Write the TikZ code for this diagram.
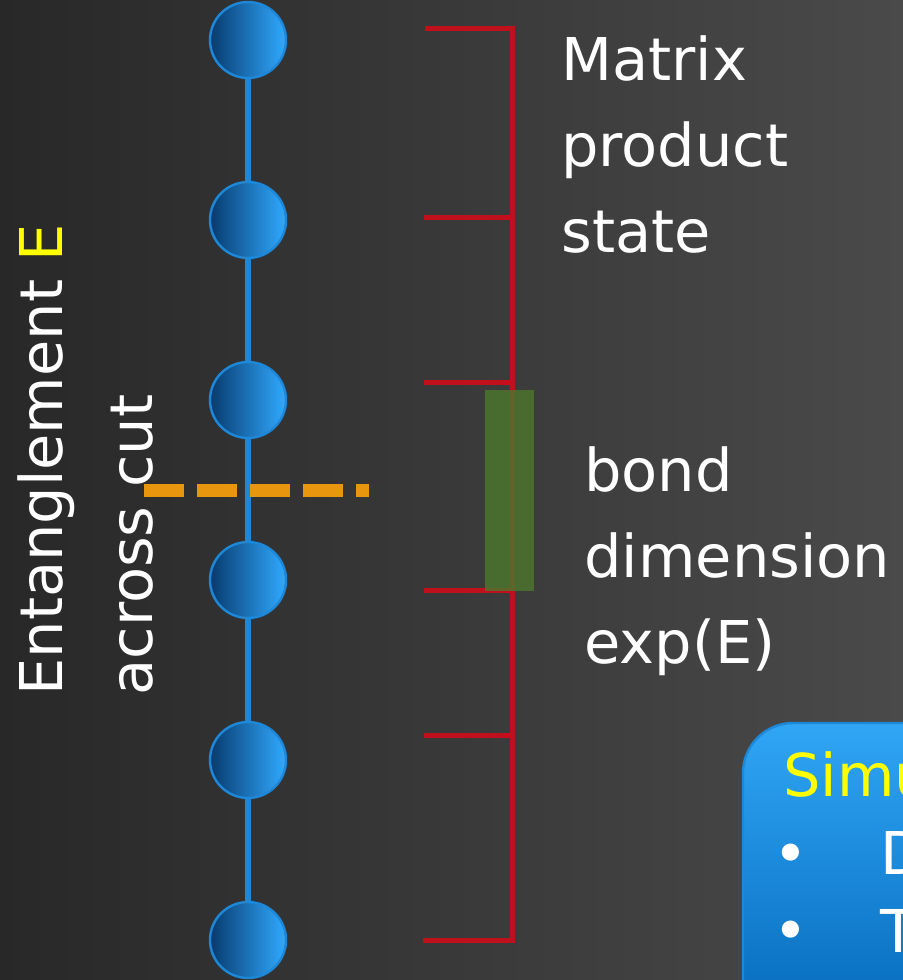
\documentclass[tikz,border=0pt]{standalone}
\usepackage{fontspec}
\setmainfont{DejaVu Sans}
\usetikzlibrary{positioning}
\pgfdeclarelayer{bg}
\pgfdeclarelayer{chain}
\pgfsetlayers{bg,chain,main}
\definecolor{bgdark}{RGB}{40,40,40}
\definecolor{bglight}{RGB}{74,74,74}
\definecolor{sitedark}{RGB}{8,58,110}
\definecolor{sitelight}{RGB}{48,170,255}
\definecolor{siteedge}{RGB}{30,136,216}
\definecolor{bracketred}{RGB}{192,16,28}
\definecolor{bondgreen}{RGB}{76,118,46}
\definecolor{cutorange}{RGB}{232,150,14}
\definecolor{boxtop}{RGB}{48,166,245}
\definecolor{boxbottom}{RGB}{0,98,180}
\definecolor{hiyellow}{RGB}{255,255,0}

\begin{document}
\begin{tikzpicture}[x=0.5pt,y=-0.5pt,
    site/.style={circle,minimum size=38pt,inner sep=0pt,draw=siteedge,line width=1.2pt,
        left color=sitedark,right color=sitelight},
    chainline/.style={draw=siteedge,line width=3pt},
    bracket/.style={draw=bracketred,line width=2.5pt},
    cutline/.style={draw=cutorange,line width=6.5pt,dash pattern=on 20pt off 6.5pt},
    label/.style={text=white,font=\fontsize{29.5}{43}\selectfont,inner sep=0pt,align=left}
]
\useasboundingbox (0,0) rectangle (903,980);
\clip (0,0) rectangle (903,980);
\begin{pgfonlayer}{bg}
\fill[left color=bgdark,right color=bglight] (0,0) rectangle (903,980);
\end{pgfonlayer}

% chain of sites
\foreach \i in {1,...,6}
    \node[site] (s\i) at (248,{40+180*(\i-1)}) {};
\begin{pgfonlayer}{chain}
\draw[chainline] (s1.center) -- (s6.center);
\end{pgfonlayer}

% brackets
\draw[bracket] (425,28) -- (512,28) -- (512,940) -- (423,940);
\foreach \y in {217,382,590,735}
    \draw[bracket] (424,\y) -- (512,\y);
\fill[bondgreen,opacity=0.82] (485,390) rectangle (534,591);

% cut
\draw[cutline] (144,490) -- (369,490);

% multi-line labels sit on the baseline of their last line
\node[label,anchor=base west] (mps) at (561,252) {Matrix\\product\\state};
\node[label,anchor=base west] (bond) at (584,663) {bond\\dimension\\exp(E)};

\node[label,rotate=90,anchor=base west] (ent) at (62,696) {Entanglement \textcolor{hiyellow}{E}};
\node[label,rotate=90,anchor=base west] (cut) at (152,696) {across cut};

% simulation box
\filldraw[draw=siteedge,line width=1.2pt,top color=boxtop,bottom color=boxbottom,rounded corners=25pt]
    (743,723) rectangle (990,1060);
\node[label,text=hiyellow,anchor=base west] (sim) at (783,796) {Simu};
\node[label,anchor=base west] (d1) at (880,874) {D};
\node[label,anchor=base west] (d2) at (880,952) {T};
\node[label,anchor=center] at (791,859) {•};
\node[label,anchor=center] at (791,936) {•};
\end{tikzpicture}
\end{document}
